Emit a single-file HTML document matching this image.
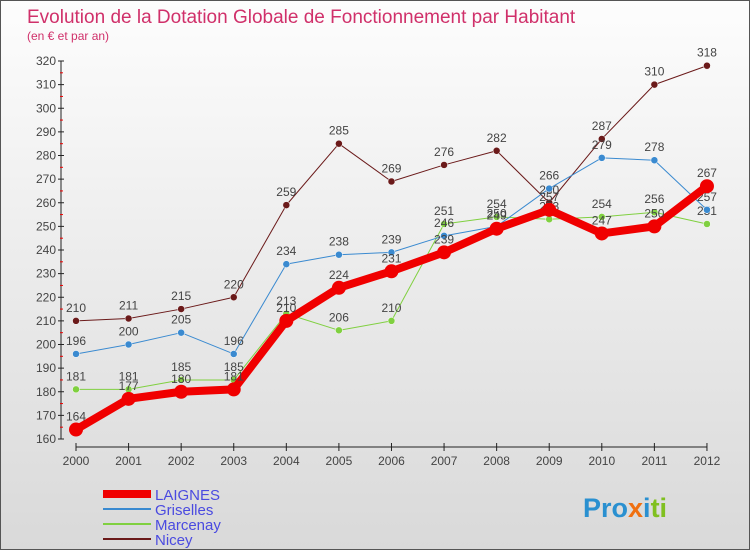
<!DOCTYPE html>
<html><head><meta charset="utf-8"><style>
body{margin:0;width:750px;height:550px;overflow:hidden;font-family:"Liberation Sans",sans-serif}
#wrap{position:absolute;left:0;top:0;width:748px;height:548px;border:1px solid #555;background:linear-gradient(#fdfdfd,#d9d9d9)}
</style></head><body>
<div id="wrap">
<svg id="chart" width="750" height="550" xmlns="http://www.w3.org/2000/svg">
<text x="26" y="22" font-size="19" fill="#d0306a">Evolution de la Dotation Globale de Fonctionnement par Habitant</text>
<text x="26" y="39" font-size="12" fill="#d0306a">(en € et par an)</text>
<g id="axes"></g><g id="series"></g><g id="legend"></g>
<text x="582" y="516" font-size="27" font-weight="bold" fill="#2a90d0">Pro<tspan fill="#f07010">x</tspan><tspan fill="#2a90d0">i</tspan><tspan fill="#80c020">ti</tspan></text>
</svg></div>
<script>
const years=[2000,2001,2002,2003,2004,2005,2006,2007,2008,2009,2010,2011,2012];
const yTicks=[160,170,180,190,200,210,220,230,240,250,260,270,280,290,300,310,320];
const laignes=[164,177,180,181,210,224,231,239,249,257,247,250,267];
const griselles=[196,200,205,196,234,238,239,246,250,266,279,278,257];
const marcenay=[181,181,185,185,213,206,210,251,254,253,254,256,251];
const nicey=[210,211,215,220,259,285,269,276,282,260,287,310,318];
const NS='http://www.w3.org/2000/svg';
function X(i){return 75+i*52.58;}
function Y(v){return 438-(v-160)*(378/160);}
function mk(t,a,p){const e=document.createElementNS(NS,t);for(const k in a)e.setAttribute(k,a[k]);p.appendChild(e);return e;}
const ax=document.getElementById('axes');
const yl=mk('line',{x1:60,y1:60,x2:60,y2:438,stroke:'#222'},ax);


yTicks.forEach((v,k)=>{
 mk('line',{x1:57,x2:63,y1:Y(v),y2:Y(v),stroke:'#222'},ax);
 if(k<yTicks.length-1) mk('line',{x1:59,x2:62,y1:Y(v+5),y2:Y(v+5),stroke:'#e00'},ax);
 const t=mk('text',{x:55,y:Y(v)+4,'text-anchor':'end','font-size':12,fill:'#444'},ax);t.textContent=v;
 
 
});
const xl=mk('line',{x1:75,y1:446,x2:706,y2:446,stroke:'#222'},ax);


years.forEach((y,i)=>{
 mk('line',{x1:X(i),x2:X(i),y1:442,y2:450,stroke:'#222'},ax);
 const t=mk('text',{x:X(i),y:464,'text-anchor':'middle','font-size':12,fill:'#444'},ax);t.textContent=y;
 
 
});
const sg=document.getElementById('series');
const series=[
 {n:'nicey',d:nicey,c:'#6b1a1a',w:1,r:3.5},
 {n:'marcenay',d:marcenay,c:'#80d040',w:1,r:3.5},
 {n:'griselles',d:griselles,c:'#3a8ad0',w:1,r:3.5},
 {n:'laignes',d:laignes,c:'#f00000',w:8,r:7}];
series.forEach(s=>{
 const g=mk('g',{},sg);
 
 
 const pl=mk('polyline',{points:s.d.map((v,i)=>X(i)+','+Y(v)).join(' '),fill:'none',stroke:s.c,'stroke-width':s.w,'stroke-linejoin':'round'},g);
 
 
 s.d.forEach((v,i)=>{
  const c=mk('circle',{cx:X(i),cy:Y(v),r:s.r,fill:s.c,stroke:s.w>1?'none':'#fff','stroke-width':0.5},g);
  
  
  const t=mk('text',{x:X(i),y:Y(v)-9,'text-anchor':'middle','font-size':12,fill:'#444'},g);t.textContent=v;
  
  
 });
});
const lg=document.getElementById('legend');
const items=[['LAIGNES','#f00000',8],['Griselles','#3a8ad0',2],['Marcenay','#80d040',2],['Nicey','#6b1a1a',2]];
items.forEach((it,i)=>{
 const y=493+i*15;
 const l=mk('line',{x1:102,x2:150,y1:y,y2:y,stroke:it[1],'stroke-width':it[2]},lg);
 
 
 const t=mk('text',{x:154,y:y+6,'font-size':15,fill:'#4a4ae0'},lg);t.textContent=it[0];
 
 
});
</script>
</body></html>
